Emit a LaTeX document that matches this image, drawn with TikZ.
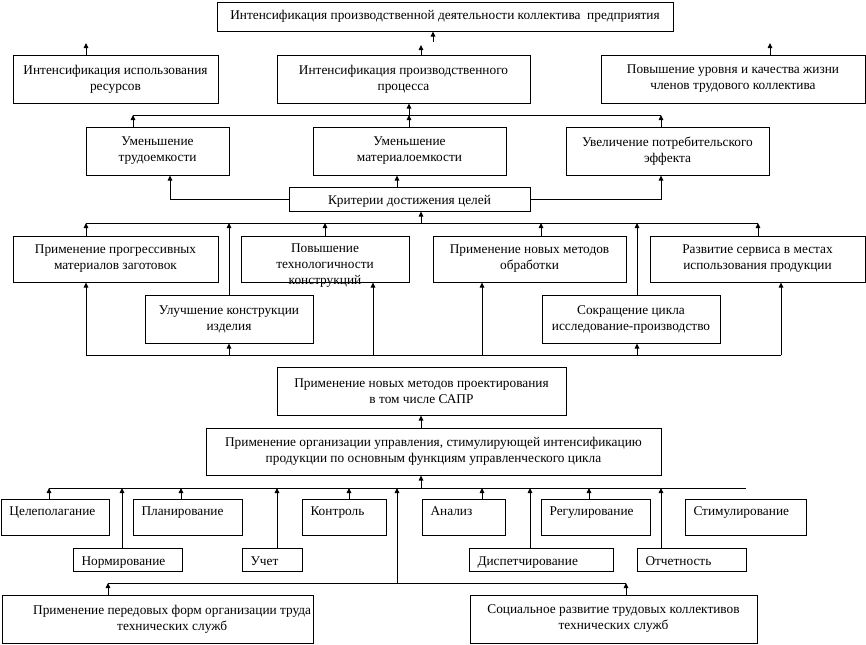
\documentclass[tikz,border=0pt]{standalone}
\usepackage{fontspec}
\setmainfont{Liberation Serif}
\usetikzlibrary{arrows.meta}
\begin{document}
\begin{tikzpicture}[x=0.75pt,y=-0.75pt,
  box/.style={draw, line width=0.75pt, inner sep=0pt, align=center, font=\fontsize{10}{12}\selectfont},
  corners/.style n args={4}{minimum width={(#3-(#1))*0.75pt}, minimum height={(#4-(#2))*0.75pt},
    at={({(#1+#3)/2},{(#2+#4)/2})}, anchor=center},
  lbox/.style={box, align=left},
  rowone/.style={lbox, text height=7pt, text depth=9.5pt},
  rowtwo/.style={lbox, text height=10.5pt, text depth=2pt},
  txt/.style={inner sep=0pt, align=center, font=\fontsize{10}{12}\selectfont},
  ln/.style={line width=0.75pt},
  arr/.style={line width=0.75pt, -{Triangle[length=3.8pt,width=3.4pt]}}]
\fill[white] (0,0) rectangle (866,644);
\useasboundingbox (0,0) rectangle (866,644);

% x guides
\foreach \x in {49,86,108,122,133,170,181,229,277,325,349,373,397,409,421,433,482,530,541,589,626,637,661,746,758,770,781}
  \coordinate (x\x) at (\x,0);
% bus levels
\coordinate (busA) at (0,115);
\coordinate (busB) at (0,223);
\coordinate (busC) at (0,355);
\coordinate (busD) at (0,488);
\coordinate (busE) at (0,583);

% top levels
\node[box, corners={217}{2}{673}{31}] (top) {Интенсификация производственной деятельности коллектива\ \ предприятия};
\node[box, corners={13}{55}{218}{103}] (res) {Интенсификация использования\\ресурсов};
\node[box, corners={277}{55}{530}{103}] (proc) {Интенсификация производственного\\процесса};
\node[box, corners={601}{55}{865}{103}] (life) {Повышение уровня и качества жизни\\членов трудового коллектива};

\node[box, corners={86}{127}{229}{175}] (tru) {Уменьшение\\трудоемкости};
\node[box, corners={313}{127}{506}{175}] (mat) {Уменьшение\\материалоемкости};
\node[box, corners={566}{127}{769}{175}] (eff) {Увеличение потребительского\\эффекта};

\node[box, corners={289}{187}{530}{211}, text height=10.5pt, text depth=2pt] (crit) {Критерии достижения целей};

\node[box, corners={13}{236}{218}{282}] (prog) {Применение прогрессивных\\материалов заготовок};
\node[box, corners={241}{236}{409}{282}] (pov) {};
\node[txt] (povtext) at (325,266) {Повышение\\технологичности\\конструкций};
\node[box, corners={433}{236}{626}{282}] (nov) {Применение новых методов\\обработки};
\node[box, corners={650}{236}{865}{282}] (raz) {Развитие сервиса в местах\\использования продукции};
\node[box, corners={145}{295}{313}{343}] (ulu) {Улучшение конструкции\\изделия};
\node[box, corners={542}{295}{720}{343}] (sok) {Сокращение цикла\\исследование-производство};

\node[box, corners={277}{367}{566}{415}] (sapr) {Применение новых методов проектирования\\в том числе САПР};
\node[box, corners={206}{428}{661}{475}] (man) {Применение организации управления, стимулирующей интенсификацию\\продукции по основным функциям управленческого цикла};

% functions, row one
\node[rowone, corners={1}{499}{109}{535}, text width=68.25pt] (cel) {Целеполагание};
\node[rowone, corners={133}{499}{242}{535}, text width=69pt] (pla) {Планирование};
\node[rowone, corners={302}{499}{386}{535}, text width=50.25pt] (kon) {Контроль};
\node[rowone, corners={422}{499}{505}{535}, text width=49.5pt] (ana) {Анализ};
\node[rowone, corners={541}{499}{650}{535}, text width=69pt] (reg) {Регулирование};
\node[rowone, corners={685}{499}{806}{535}, text width=78pt] (sti) {Стимулирование};
% functions, row two
\node[rowtwo, corners={73}{548}{182}{571}, text width=69pt] (nor) {Нормирование};
\node[rowtwo, corners={242}{548}{302}{571}, text width=32.25pt] (uch) {Учет};
\node[rowtwo, corners={469}{548}{613}{571}, text width=95.25pt] (dis) {Диспетчирование};
\node[rowtwo, corners={637}{548}{746}{571}, text width=69pt] (otc) {Отчетность};

\node[box, corners={2}{595}{313}{643}] (pered) {\hspace*{22pt}Применение передовых форм организации труда\\\hspace*{22pt}технических служб};
\node[box, corners={470}{595}{757}{643}] (soc) {Социальное развитие трудовых коллективов\\технических служб};

% free arrows at the top
\coordinate (tipRes) at (86,43);
\coordinate (tipProc) at (421,45);
\coordinate (tailTop) at (433,42);
\coordinate (tipLife) at (770,43);
\draw[arr] (res.north -| tipRes) -- (tipRes);
\draw[arr] (proc.north -| tipProc) -- (tipProc);
\draw[arr] (tailTop) -- (top.south -| tailTop);
\draw[arr] (life.north -| tipLife) -- (tipLife);

% bus A
\draw[ln] (x133 |- busA) -- (x661 |- busA);
\draw[arr] (tru.north -| x133) -- (x133 |- busA);
\draw[arr] (mat.north -| x409) -- (x409 |- busA);
\draw[arr] (eff.north -| x661) -- (x661 |- busA);
\draw[arr] (x409 |- busA) -- (proc.south -| x409);

% criteria
\draw[arr] (crit.west) -| (tru.south -| x170);
\draw[arr] (crit.east) -| (eff.south -| x661);
\draw[arr] (crit.north -| x397) -- (mat.south -| x397);

% bus B
\draw[ln] (x86 |- busB) -- (x758 |- busB);
\draw[arr] (x421 |- busB) -- (crit.south -| x421);
\draw[arr] (prog.north -| x86) -- (x86 |- busB);
\draw[arr] (ulu.north -| x229) -- (x229 |- busB);
\draw[arr] (pov.north -| x325) -- (x325 |- busB);
\draw[arr] (nov.north -| x541) -- (x541 |- busB);
\draw[arr] (sok.north -| x637) -- (x637 |- busB);
\draw[arr] (raz.north -| x758) -- (x758 |- busB);

% bus C
\draw[ln] (x86 |- busC) -- (x781 |- busC);
\draw[arr] (x86 |- busC) -- (prog.south -| x86);
\draw[arr] (x229 |- busC) -- (ulu.south -| x229);
\draw[arr] (x373 |- busC) -- (pov.south -| x373);
\draw[arr] (x482 |- busC) -- (nov.south -| x482);
\draw[arr] (x637 |- busC) -- (sok.south -| x637);
\draw[arr] (x781 |- busC) -- (raz.south -| x781);

% management
\draw[arr] (man.north -| x421) -- (sapr.south -| x421);
\draw[ln] (x49 |- busD) -- (x746 |- busD);
\draw[arr] (x421 |- busD) -- (man.south -| x421);
\draw[arr] (cel.north -| x49) -- (x49 |- busD);
\draw[arr] (nor.north -| x122) -- (x122 |- busD);
\draw[arr] (pla.north -| x181) -- (x181 |- busD);
\draw[arr] (uch.north -| x277) -- (x277 |- busD);
\draw[arr] (kon.north -| x349) -- (x349 |- busD);
\draw[arr] (ana.north -| x482) -- (x482 |- busD);
\draw[arr] (dis.north -| x530) -- (x530 |- busD);
\draw[arr] (reg.north -| x589) -- (x589 |- busD);
\draw[arr] (otc.north -| x661) -- (x661 |- busD);

% bus E
\draw[ln] (x108 |- busE) -- (x626 |- busE);
\draw[arr] (x397 |- busE) -- (x397 |- busD);
\draw[arr] (pered.north -| x108) -- (x108 |- busE);
\draw[arr] (soc.north -| x626) -- (x626 |- busE);
\end{tikzpicture}
\end{document}
